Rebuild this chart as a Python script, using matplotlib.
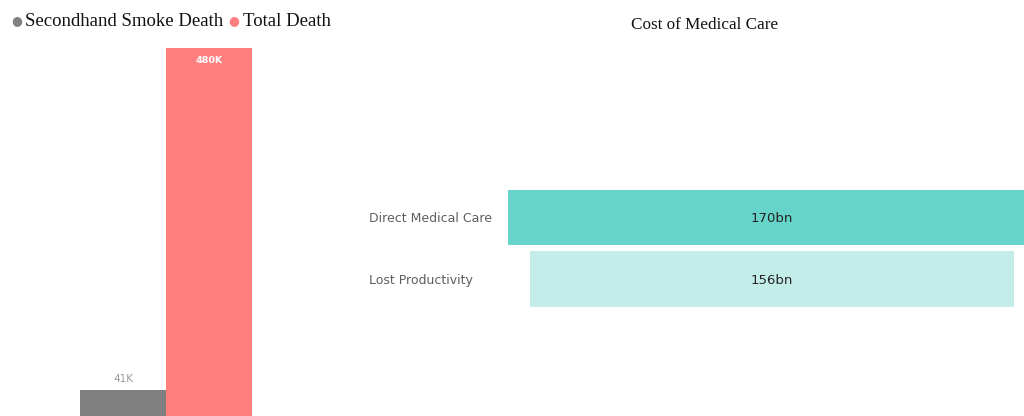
import matplotlib
matplotlib.use("Agg")
import matplotlib.pyplot as plt
from matplotlib.transforms import blended_transform_factory

# Data
death_categories = ["Secondhand Smoke Death", "Total Death"]
death_values = [41, 480]          # thousands
death_labels = ["41K", "480K"]
death_colors = ["#808080", "#FF7F7F"]

cost_categories = ["Direct Medical Care", "Lost Productivity"]
cost_values = [170, 156]          # billions
cost_labels = ["170bn", "156bn"]
cost_colors = ["#66D4CA", "#C2EDE9"]

W, H = 1024, 416
fig = plt.figure(figsize=(W / 100, H / 100), dpi=100)
fig.patch.set_facecolor("white")

def px_axes(x0, y0, x1, y1):
    # pixel box (top-left origin) -> axes
    return fig.add_axes([x0 / W, 1 - y1 / H, (x1 - x0) / W, (y1 - y0) / H])

# ---- Left: deaths column chart ----
axl = px_axes(80, 48, 252, 422)
xs = [0, 1]
axl.bar(xs, death_values, width=1.0, color=death_colors)
axl.set_xlim(-0.5, 1.5)
axl.set_ylim(0, max(death_values))
axl.axis("off")
axl.text(0, death_values[0] + 8, death_labels[0], ha="center", va="bottom",
         fontsize=7.5, color="#9A9A9A", family="DejaVu Sans")
axl.text(1, death_values[1] - 10, death_labels[1], ha="center", va="top",
         fontsize=6.8, color="white", fontweight="bold", family="DejaVu Sans")

# legend
leg_x = [17, 234]
leg_tx = [25, 243]
for i, name in enumerate(death_categories):
    fig.text(leg_x[i] / W, 1 - 21 / H, "\u25CF", color=death_colors[i],
             ha="center", va="center", fontsize=9, family="DejaVu Sans")
    fig.text(leg_tx[i] / W, 1 - 21 / H, name, ha="left", va="center",
             fontsize=13.5, family="Liberation Serif", color="#111111")

# ---- Right: cost funnel ----
fig.text(705 / W, 1 - 25 / H, "Cost of Medical Care", ha="center", va="center",
         fontsize=12.3, family="Liberation Serif", color="#111111")

axr = px_axes(508, 186.75, 1036, 309.75)
ys = [0, 1]
half = max(cost_values) / 2
lefts = [-v / 2 for v in cost_values]
axr.barh(ys, cost_values, left=lefts, height=0.9, color=cost_colors)
axr.set_xlim(-half, half)
axr.set_ylim(1.5, -0.5)
axr.axis("off")
for y, lab in zip(ys, cost_labels):
    axr.text(0, y + 0.02, lab, ha="center", va="center", fontsize=9.5,
             color="#252423", family="DejaVu Sans")
tr = blended_transform_factory(fig.transFigure, axr.transData)
for y, cat in zip(ys, cost_categories):
    axr.text(369 / W, y + 0.02, cat, transform=tr, ha="left", va="center",
             fontsize=9, color="#605E5C", family="DejaVu Sans")

fig.savefig("out.png", dpi=100, facecolor="white")
